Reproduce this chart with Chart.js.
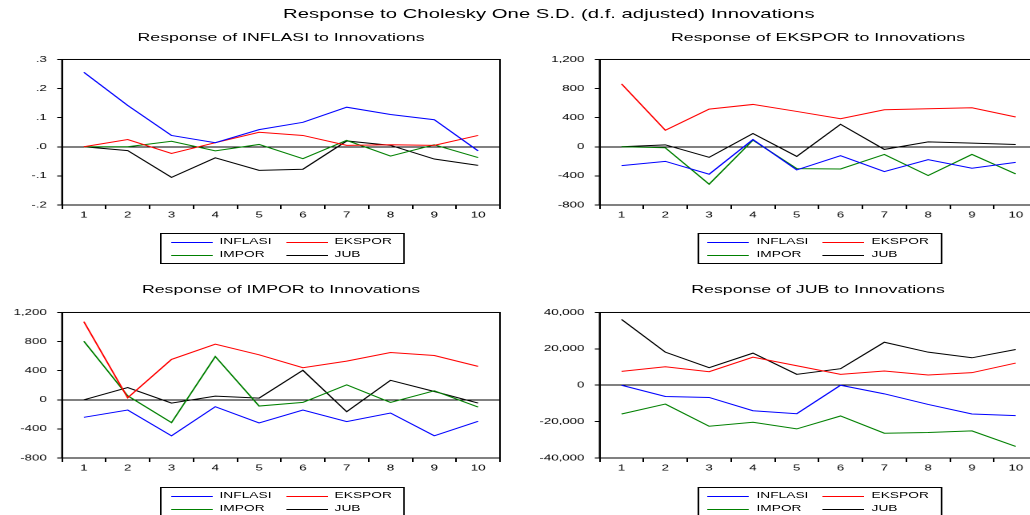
<!DOCTYPE html>
<html>
<head>
<meta charset="utf-8">
<script src="https://cdn.jsdelivr.net/npm/chart.js@4.4.1/dist/chart.umd.min.js"></script>
<style>
  html, body { margin: 0; padding: 0; background: #fff; width: 1030px; height: 515px; overflow: hidden; }
  /* the reference is stretched horizontally, so the whole page is drawn narrow and widened */
  #page { position: absolute; left: 0; top: 0; width: 644px; height: 515px;
          transform: scaleX(1.6); transform-origin: 0 0;
          font-family: "Liberation Sans", Arial, sans-serif; color: #000; }
  .title { position: absolute; white-space: nowrap; transform: translate(-50%, -50%); }
  .main { font-size: 12.7px; }
  .sub { font-size: 11.1px; }
  canvas { position: absolute; }
  .legend { position: absolute; width: 151px; height: 29px; border: 1px solid #000; font-size: 8.6px; }
  .legend .txt { position: absolute; white-space: nowrap; }
  .legend svg { position: absolute; overflow: visible; }
</style>
</head>
<body>
<div id="page">
  <div class="title main" style="left:343px; top:14px;">Response to Cholesky One S.D. (d.f. adjusted) Innovations</div>
</div>
<script>
const periods = ['1', '2', '3', '4', '5', '6', '7', '8', '9', '10'];
const seriesNames = ['INFLASI', 'EKSPOR', 'IMPOR', 'JUB'];
const seriesColors = ['#0000ff', '#ff0000', '#008000', '#000000'];

// Response of INFLASI
const inflasiToInflasi = [0.256, 0.142, 0.039, 0.014, 0.059, 0.084, 0.136, 0.111, 0.093, -0.014];
const inflasiToEkspor  = [0.000, 0.025, -0.023, 0.014, 0.050, 0.039, 0.005, 0.007, 0.005, 0.039];
const inflasiToImpor   = [0.000, 0.000, 0.019, -0.014, 0.008, -0.041, 0.022, -0.032, 0.007, -0.037];
const inflasiToJub     = [0.000, -0.013, -0.105, -0.038, -0.081, -0.077, 0.020, 0.005, -0.042, -0.064];

// Response of EKSPOR
const eksporToInflasi = [-259, -200, -377, 100, -318, -123, -341, -177, -295, -214];
const eksporToEkspor  = [864, 227, 518, 582, 486, 386, 509, 523, 536, 409];
const eksporToImpor   = [0, -14, -514, 91, -300, -305, -105, -395, -105, -373];
const eksporToJub     = [0, 27, -145, 182, -132, 309, -36, 68, 50, 32];

// Response of IMPOR
const imporToInflasi = [-241, -141, -495, -95, -318, -141, -300, -182, -495, -295];
const imporToEkspor  = [1073, 27, 555, 764, 618, 441, 532, 650, 609, 459];
const imporToImpor   = [805, 55, -314, 595, -86, -36, 205, -36, 123, -100];
const imporToJub     = [0, 168, -45, 50, 23, 405, -164, 268, 114, -45];

// Response of JUB
const jubToInflasi = [0, -6180, -6730, -14000, -15640, 0, -4730, -10550, -15820, -16730];
const jubToEkspor  = [7640, 10180, 7450, 15450, 10730, 6000, 7820, 5640, 6910, 12180];
const jubToImpor   = [-15820, -10360, -22550, -20360, -24000, -16910, -26360, -26000, -25090, -33640];
const jubToJub     = [36180, 18180, 9640, 17640, 6000, 9090, 23640, 18180, 15090, 19640];

const inflasiTicks = [-0.2, -0.1, 0, 0.1, 0.2, 0.3];
const inflasiTickLabels = ['-.2', '-.1', '.0', '.1', '.2', '.3'];
const tradeTicks = [-800, -400, 0, 400, 800, 1200];
const tradeTickLabels = ['-800', '-400', '0', '400', '800', '1,200'];
const jubTicks = [-40000, -20000, 0, 20000, 40000];
const jubTickLabels = ['-40,000', '-20,000', '0', '20,000', '40,000'];

const page = document.getElementById('page');
const tickFont = { family: '"Liberation Sans", Arial, sans-serif', size: 8.3 };
const SVGNS = 'http://www.w3.org/2000/svg';

const frame = {
  id: 'frame',
  afterDraw(chart) {
    const { ctx, chartArea: a } = chart;
    ctx.save();
    ctx.strokeStyle = '#000';
    ctx.lineWidth = 1;
    ctx.strokeRect(a.left, a.top, a.right - a.left, a.bottom - a.top);
    ctx.restore();
  }
};

function addPanel(opts) {
  const title = document.createElement('div');
  title.className = 'title sub';
  title.style.left = (opts.left + 38.75 + 136.9) + 'px';
  title.style.top = opts.titleY + 'px';
  title.textContent = opts.title;
  page.appendChild(title);

  const canvas = document.createElement('canvas');
  canvas.width = 317;
  canvas.height = 177;
  canvas.style.left = opts.left + 'px';
  canvas.style.top = opts.top + 'px';
  canvas.style.width = '317px';
  canvas.style.height = '177px';
  page.appendChild(canvas);

  new Chart(canvas.getContext('2d'), {
    type: 'line',
    data: {
      labels: periods,
      datasets: opts.series.map((values, i) => ({
        label: seriesNames[i],
        data: values,
        borderColor: seriesColors[i],
        borderWidth: 1,
        pointRadius: 0,
        tension: 0,
        fill: false
      }))
    },
    options: {
      responsive: false,
      animation: false,
      devicePixelRatio: 2,
      layout: { padding: { top: 10.5, right: 4.5, left: 0, bottom: 0 } },
      plugins: { legend: { display: false }, tooltip: { enabled: false } },
      scales: {
        x: {
          offset: true,
          afterFit: s => { s.height = 20; },
          grid: { offset: true, drawOnChartArea: false, tickLength: 4, color: '#000', tickColor: '#000' },
          border: { color: '#000' },
          ticks: { font: tickFont, color: '#000', padding: 1, maxRotation: 0, autoSkip: false }
        },
        y: {
          min: opts.ticks[0],
          max: opts.ticks[opts.ticks.length - 1],
          afterFit: s => { s.width = 38.75; },
          afterBuildTicks: s => { s.ticks = opts.ticks.map(v => ({ value: v })); },
          grid: {
            color: c => (c.tick && c.tick.value === 0 ? '#000' : 'rgba(0,0,0,0)'),
            tickColor: '#000',
            tickLength: 3
          },
          border: { color: '#000' },
          ticks: { font: tickFont, color: '#000', padding: 6.5, callback: (v, i) => opts.tickLabels[i] }
        }
      }
    },
    plugins: [frame]
  });

  const legend = document.createElement('div');
  legend.className = 'legend';
  legend.style.left = (opts.left + 38.75 + 61.25) + 'px';
  legend.style.top = opts.legendY + 'px';
  seriesNames.forEach((name, i) => {
    const col = i % 2, row = Math.floor(i / 2);
    const svg = document.createElementNS(SVGNS, 'svg');
    svg.setAttribute('width', '26');
    svg.setAttribute('height', '3');
    svg.style.left = (5.6 + col * 71.9) + 'px';
    svg.style.top = (7 + row * 13) + 'px';
    const ln = document.createElementNS(SVGNS, 'line');
    ln.setAttribute('x1', '0');
    ln.setAttribute('x2', '26');
    ln.setAttribute('y1', '1.5');
    ln.setAttribute('y2', '1.5');
    ln.setAttribute('stroke', seriesColors[i]);
    ln.setAttribute('stroke-width', '1');
    svg.appendChild(ln);
    legend.appendChild(svg);
    const text = document.createElement('div');
    text.className = 'txt';
    text.textContent = name;
    text.style.left = (36.2 + col * 71.9) + 'px';
    text.style.top = (2.3 + row * 12.7) + 'px';
    legend.appendChild(text);
  });
  page.appendChild(legend);
}

addPanel({ left: 0, top: 48, titleY: 37, legendY: 233, title: 'Response of INFLASI to Innovations',
  series: [inflasiToInflasi, inflasiToEkspor, inflasiToImpor, inflasiToJub],
  ticks: inflasiTicks, tickLabels: inflasiTickLabels });
addPanel({ left: 335.6, top: 48, titleY: 37, legendY: 233, title: 'Response of EKSPOR to Innovations',
  series: [eksporToInflasi, eksporToEkspor, eksporToImpor, eksporToJub],
  ticks: tradeTicks, tickLabels: tradeTickLabels });
addPanel({ left: 0, top: 300.5, titleY: 288.5, legendY: 487, title: 'Response of IMPOR to Innovations',
  series: [imporToInflasi, imporToEkspor, imporToImpor, imporToJub],
  ticks: tradeTicks, tickLabels: tradeTickLabels });
addPanel({ left: 335.6, top: 300.5, titleY: 288.5, legendY: 487, title: 'Response of JUB to Innovations',
  series: [jubToInflasi, jubToEkspor, jubToImpor, jubToJub],
  ticks: jubTicks, tickLabels: jubTickLabels });
</script>
</body>
</html>
